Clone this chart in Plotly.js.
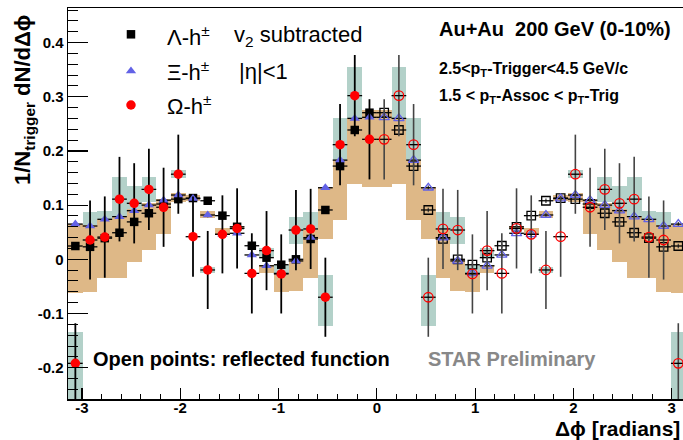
<!DOCTYPE html>
<html>
<head>
<meta charset="utf-8">
<script src="https://cdn.plot.ly/plotly-3.0.1.min.js"></script>
<style>html,body{margin:0;padding:0;background:#fff}#plot{width:683px;height:440px}</style>
</head>
<body>
<div id="plot"></div>
<script>
// ---- data (left half, Δφ from -π to 0; open points are the reflected function) ----
const dphi = [-3.0668,-2.9172,-2.7676,-2.6180,-2.4684,-2.3188,-2.1692,-2.0196,-1.8700,-1.7203,
              -1.5708,-1.4212,-1.2716,-1.1220,-0.9724,-0.8228,-0.6732,-0.5236,-0.3740,-0.2244,-0.0748];
const lambdaY = [0.0245,0.023,0.039,0.049,0.069,0.085,0.102,0.111,0.113,0.108,
                 0.0805,0.060,0.025,0.003,-0.010,0.000,0.0375,0.091,0.172,0.2386,0.2705];
const xiY     = [0.065,0.0614,0.0738,0.0787,0.0897,0.100,0.109,0.1186,0.112,0.0817,
                 0.046,0.048,0.008,-0.012,-0.026,-0.003,0.040,0.132,0.183,0.260,0.262];
const omegaY  = [-0.192,0.0356,0.041,0.111,0.1033,0.129,0.096,0.157,0.0417,-0.0197,
                 0.046,0.057,-0.026,0.016,-0.027,0.054,0.056,-0.070,0.2115,0.302,0.2214];
const omegaErr= [0.074,0.073,0.075,0.078,0.074,0.075,0.073,0.073,0.074,0.072,
                 0.072,0.074,0.074,0.073,0.073,0.074,0.074,0.073,0.075,0.075,0.074];
const smallErr= [0.004,0.004,0.004,0.004,0.004,0.004,0.004,0.004,0.004,0.004,
                 0.004,0.004,0.004,0.004,0.004,0.004,0.004,0.004,0.004,0.004,0.004];
// systematic boxes (tan and grey-green)
const tanTop  = [0.066,0.064,0.075,0.080,0.093,0.103,0.112,0.122,0.118,0.089,
                 0.057,0.062,0.025,-0.010,-0.027,0.000,0.054,0.134,0.183,0.260,0.2755];
const tanBot  = [-0.062,-0.060,-0.035,-0.035,-0.005,0.017,0.046,0.106,0.108,0.076,
                 0.046,0.055,0.025,-0.026,-0.060,-0.058,-0.034,0.037,0.0725,0.139,0.134];
const tealTop = [-0.135,0.088,0.089,0.152,0.135,0.152,0.096,0.165,0.0417,-0.0137,
                 0.046,0.060,-0.026,0.020,-0.0105,0.0786,0.088,-0.029,0.260,0.355,0.2214];
const tealBot = [-0.262,-0.017,-0.007,0.070,0.070,0.105,0.096,0.150,0.0417,-0.0247,
                 0.046,0.054,-0.026,0.005,-0.040,0.028,0.024,-0.123,0.160,0.249,0.2214];
const xTickVals = [-3,-2,-1,0,1,2,3];
const xTickText = ["-3","-2","-1","0","1","2","3"];
const yTickVals = [-0.2,-0.1,0,0.1,0.2,0.3,0.4];
const yTickText = ["-0.2","-0.1","0","0.1","0.2","0.3","0.4"];

// ---- reflected (open) half ----
const rev = a => a.slice().reverse();
const dphiR = rev(dphi).map(v => -v);
const allX = dphi.concat(dphiR);
const both = a => a.concat(rev(a));

const binW = 2*Math.PI/42;
const TAN = '#deb887', TEAL = '#b3d1c9', BLUE = '#6262e6', RED = '#ff0000';

function box(top, bot, color) {
  const t = both(top), b = both(bot);
  return {type:'bar', x: allX, base: b, y: t.map((v,i)=>v-b[i]), width: binW,
          marker:{color:color, line:{width:0}}, hoverinfo:'skip', showlegend:false};
}
function pts(x, y, ey, sym, size, color, line, errColor, errW) {
  return {type:'scatter', mode:'markers', x:x, y:y, showlegend:false,
    marker:{symbol:sym, size:size, color:color, line:line},
    error_x:{type:'constant', value:binW/2, color:'#000', thickness:1.3, width:0},
    error_y:{type:'data', array:ey, color:errColor, thickness:errW, width:0}};
}

const traces = [
  box(tealTop, tealBot, TEAL),
  box(tanTop, tanBot, TAN),
  // filled (measured) points
  pts(dphi, lambdaY, smallErr, 'square', 8.5, '#000', {width:0}, '#000', 1.3),
  pts(dphi, xiY, smallErr, 'triangle-up', 9, BLUE, {width:0}, '#000', 1.3),
  pts(dphi, omegaY, omegaErr, 'circle', 9.5, RED, {width:0}, '#000', 1.8),
  // open (reflected) points
  pts(dphiR, rev(lambdaY), rev(smallErr), 'square-open', 8.5, '#000', {color:'#000', width:1.3}, '#444', 1.3),
  pts(dphiR, rev(xiY), rev(smallErr), 'triangle-up-open', 9, BLUE, {color:BLUE, width:1.3}, '#444', 1.3),
  pts(dphiR, rev(omegaY), rev(omegaErr), 'circle-open', 9.5, RED, {color:RED, width:1.3}, '#444', 1.6),
  // legend markers on an overlay axis
  {type:'scatter', mode:'markers', xaxis:'x2', yaxis:'y2', x:[0.1024], y:[0.9327], showlegend:false,
   marker:{symbol:'square', size:8.5, color:'#000'}},
  {type:'scatter', mode:'markers', xaxis:'x2', yaxis:'y2', x:[0.1024], y:[0.8389], showlegend:false,
   marker:{symbol:'triangle-up', size:9, color:BLUE}},
  {type:'scatter', mode:'markers', xaxis:'x2', yaxis:'y2', x:[0.1024], y:[0.7519], showlegend:false,
   marker:{symbol:'circle', size:9.5, color:RED}}
];

const F = 'Liberation Sans, Arial, Helvetica, sans-serif';
const tickFont = {family:F, size:15, color:'#000', weight:'bold'};
const px = v => (v-68)/615, py = v => (399-v)/391;
function ann(text, x, y, size, opts) {
  return Object.assign({xref:'paper', yref:'paper', x:px(x), y:py(y), text:text, showarrow:false,
    xanchor:'left', yanchor:'middle', font:{family:F, size:size, color:'#000'}}, opts||{});
}

const layout = {
  width:683, height:440, margin:{l:68, r:0, t:8, b:41, pad:0},
  paper_bgcolor:'#fff', plot_bgcolor:'#fff', barmode:'overlay', bargap:0, showlegend:false,
  xaxis:{range:[-3.1416, 3.1146], showgrid:false, zeroline:false, showline:true, linecolor:'#000',
    linewidth:1.5, mirror:true, ticks:'inside', ticklen:11, tickwidth:1.2, tickcolor:'#000',
    tickmode:'array', tickvals:xTickVals, ticktext:xTickText, tickfont:tickFont, ticklabelstandoff:-6,
    minor:{ticks:'inside', ticklen:5, tickwidth:1, tickcolor:'#000', dtick:0.2, tick0:0, showgrid:false}},
  yaxis:{range:[-0.2578, 0.4637], showgrid:false, zeroline:false, showline:true, linecolor:'#000',
    linewidth:1.5, mirror:false, ticks:'inside', ticklen:20, tickwidth:1.2, tickcolor:'#000',
    tickmode:'array', tickvals:yTickVals, ticktext:yTickText, tickfont:tickFont,
    minor:{ticks:'inside', ticklen:10, tickwidth:1, tickcolor:'#000', dtick:0.02, tick0:0, showgrid:false}},
  xaxis2:{overlaying:'x', range:[0,1], visible:false, fixedrange:true},
  yaxis2:{overlaying:'y', range:[0,1], visible:false, fixedrange:true},
  annotations:[
    ann('1/N<sub>trigger</sub> dN/d\u0394\u03d5', 24, 100, 22, {textangle:-90, xanchor:'center',
        font:{family:F, size:22, color:'#000', weight:'bold'}}),
    ann('\u0394\u03d5 [radians]', 682, 428, 21, {xanchor:'right', font:{family:F, size:21, color:'#000', weight:'bold'}}),
    ann('\u039b-h<sup>\u00b1</sup>', 165, 36, 22),
    ann('v<sub>2</sub> subtracted', 232, 36, 22),
    ann('\u039e-h<sup>\u00b1</sup>', 165, 71, 22),
    ann('|\u03b7|&lt;1', 237, 71, 22),
    ann('\u03a9-h<sup>\u00b1</sup>', 165, 105, 22),
    ann('Au+Au\u00a0\u00a0200 GeV (0-10%)', 437, 29, 20, {font:{family:F, size:20, color:'#000', weight:'bold'}}),
    ann('2.5&lt;p<sub>T</sub>-Trigger&lt;4.5 GeV/c', 437, 69, 16, {font:{family:F, size:16, color:'#000', weight:'bold'}}),
    ann('1.5 &lt; p<sub>T</sub>-Assoc &lt; p<sub>T</sub>-Trig', 437, 96, 16, {font:{family:F, size:16, color:'#000', weight:'bold'}}),
    ann('Open points: reflected function', 91, 359, 20, {font:{family:F, size:20, color:'#000', weight:'bold'}}),
    ann('STAR Preliminary', 426, 359, 20, {font:{family:F, size:20, color:'#888888', weight:'bold'}})
  ]
};

Plotly.newPlot('plot', traces, layout, {staticPlot:true, displayModeBar:false});
</script>
</body>
</html>
